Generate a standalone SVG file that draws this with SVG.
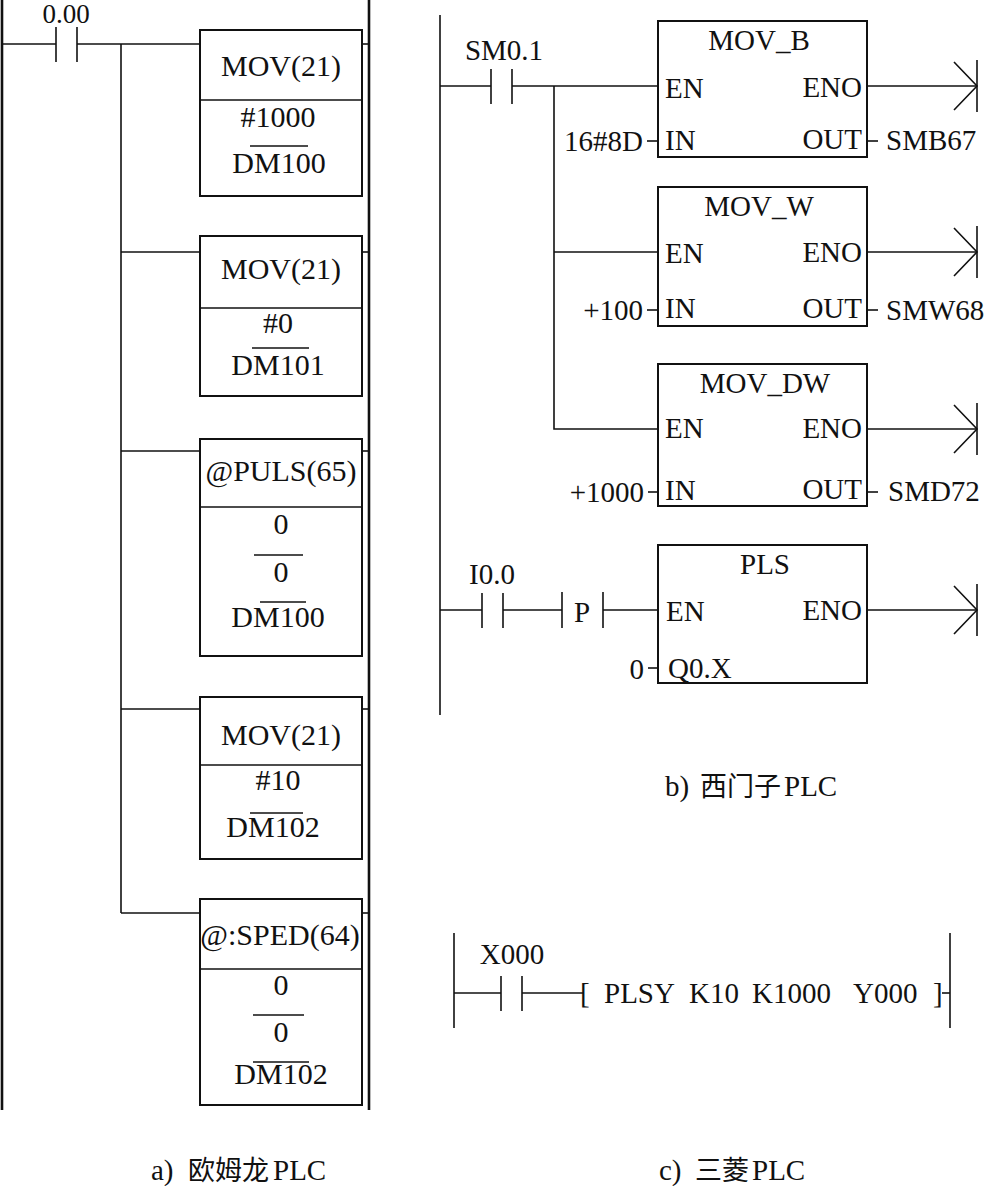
<svg xmlns="http://www.w3.org/2000/svg" xmlns:xlink="http://www.w3.org/1999/xlink" width="986" height="1186" viewBox="0 0 986 1186">
<style>
text{font-family:"Liberation Serif","Times New Roman",serif;fill:#111;}
.l{font-size:30px;}
.r{font-size:29px;}
.m{text-anchor:middle;}
.e{text-anchor:end;}
.cap{font-size:29px;}
.cjk{font-family:"Noto Sans CJK SC","Noto Sans CJK JP",sans-serif;font-size:27px;}
.w{stroke:#111;stroke-width:1.6;fill:none;}
.rail{stroke:#111;stroke-width:2.6;fill:none;}
.box{stroke:#111;stroke-width:2;fill:#fff;}
</style>
<defs>
<g id="contact"><line x1="0" y1="-17" x2="0" y2="18" class="w"/><line x1="21" y1="-17" x2="21" y2="18" class="w"/></g>
<g id="term"><polyline points="-23,-24 0,0 -23,24" class="w"/><line x1="0" y1="-26" x2="0" y2="26" class="w"/></g>
</defs>
<rect width="986" height="1186" fill="#fff"/>

<!-- connectors -->
<g id="connectors">
<!-- a) Omron -->
<line x1="2" y1="0" x2="2" y2="1110" class="rail"/>
<line x1="369" y1="0" x2="369" y2="1110" class="rail"/>
<line x1="2" y1="44" x2="56" y2="44" class="w"/>
<line x1="77" y1="44" x2="200" y2="44" class="w"/>
<line x1="121" y1="44" x2="121" y2="913" class="w"/>
<line x1="121" y1="252" x2="200" y2="252" class="w"/>
<line x1="121" y1="451" x2="200" y2="451" class="w"/>
<line x1="121" y1="709" x2="200" y2="709" class="w"/>
<line x1="121" y1="913" x2="200" y2="913" class="w" stroke-width="2"/>
<line x1="362" y1="44" x2="369" y2="44" class="w"/>
<line x1="362" y1="252" x2="369" y2="252" class="w"/>
<line x1="362" y1="451" x2="369" y2="451" class="w"/>
<line x1="362" y1="709" x2="369" y2="709" class="w"/>
<line x1="362" y1="913" x2="369" y2="913" class="w"/>
<!-- b) Siemens -->
<line x1="440" y1="15" x2="440" y2="715" class="w" stroke-width="2"/>
<line x1="440" y1="86" x2="491" y2="86" class="w"/>
<line x1="512" y1="86" x2="658" y2="86" class="w"/>
<polyline points="554,86 554,429 658,429" class="w"/>
<line x1="554" y1="252" x2="658" y2="252" class="w"/>
<line x1="440" y1="610" x2="482" y2="610" class="w"/>
<line x1="503" y1="610" x2="562" y2="610" class="w"/>
<line x1="562" y1="592" x2="562" y2="628" class="w"/>
<line x1="603" y1="592" x2="603" y2="628" class="w"/>
<line x1="603" y1="610" x2="658" y2="610" class="w"/>
<line x1="867" y1="86" x2="977" y2="86" class="w"/>
<line x1="867" y1="252" x2="977" y2="252" class="w"/>
<line x1="867" y1="429" x2="977" y2="429" class="w"/>
<line x1="867" y1="610" x2="977" y2="610" class="w"/>
<use xlink:href="#term" x="977" y="86"/>
<use xlink:href="#term" x="977" y="252"/>
<use xlink:href="#term" x="977" y="429"/>
<use xlink:href="#term" x="977" y="610"/>
<line x1="647" y1="141" x2="658" y2="141" class="w"/>
<line x1="867" y1="141" x2="878" y2="141" class="w"/>
<line x1="647" y1="310" x2="658" y2="310" class="w"/>
<line x1="867" y1="310" x2="878" y2="310" class="w"/>
<line x1="648" y1="492" x2="658" y2="492" class="w"/>
<line x1="867" y1="492" x2="878" y2="492" class="w"/>
<line x1="648" y1="668" x2="658" y2="668" class="w"/>
<!-- c) Mitsubishi -->
<line x1="454" y1="933" x2="454" y2="1028" class="w" stroke-width="2"/>
<line x1="950" y1="933" x2="950" y2="1028" class="w" stroke-width="2"/>
<line x1="454" y1="993" x2="501" y2="993" class="w"/>
<line x1="522" y1="993" x2="584" y2="993" class="w"/>
<line x1="942" y1="993" x2="950" y2="993" class="w"/>
</g>

<!-- a) Omron nodes -->
<g id="c000">
<use xlink:href="#contact" x="56" y="44"/>
<text class="m" x="66" y="23" font-size="27">0.00</text>
</g>
<g id="mov1">
<rect x="200" y="30" width="162" height="166" class="box"/>
<line x1="200" y1="100" x2="362" y2="100" class="w"/>
<text class="l m" x="281" y="76">MOV(21)</text>
<text class="l m" x="278" y="127">#1000</text>
<line x1="250" y1="146" x2="308" y2="146" class="w"/>
<text class="l m" x="279" y="173">DM100</text>
</g>
<g id="mov2">
<rect x="200" y="236" width="162" height="160" class="box"/>
<line x1="200" y1="308" x2="362" y2="308" class="w"/>
<text class="l m" x="281" y="279">MOV(21)</text>
<text class="l m" x="278" y="333">#0</text>
<line x1="252" y1="348" x2="309" y2="348" class="w"/>
<text class="l m" x="278" y="375">DM101</text>
</g>
<g id="puls">
<rect x="200" y="439" width="162" height="217" class="box"/>
<line x1="200" y1="507" x2="362" y2="507" class="w"/>
<text class="l m" x="281" y="481">@PULS(65)</text>
<text class="l m" x="281" y="534">0</text>
<line x1="254" y1="555" x2="303" y2="555" class="w"/>
<text class="l m" x="281" y="582">0</text>
<line x1="260" y1="602" x2="306" y2="602" class="w"/>
<text class="l m" x="278" y="627">DM100</text>
</g>
<g id="mov3">
<rect x="200" y="697" width="162" height="162" class="box"/>
<line x1="200" y1="765" x2="362" y2="765" class="w"/>
<text class="l m" x="281" y="745">MOV(21)</text>
<text class="l m" x="278" y="790">#10</text>
<line x1="250" y1="813" x2="303" y2="813" class="w"/>
<text class="l m" x="273" y="837">DM102</text>
</g>
<g id="sped">
<rect x="200" y="899" width="162" height="206" class="box"/>
<line x1="200" y1="969" x2="362" y2="969" class="w"/>
<text class="l m" x="280" y="945">@:SPED(64)</text>
<text class="l m" x="281" y="995">0</text>
<line x1="253" y1="1015" x2="304" y2="1015" class="w"/>
<text class="l m" x="281" y="1042">0</text>
<line x1="253" y1="1062" x2="309" y2="1062" class="w"/>
<text class="l m" x="281" y="1084">DM102</text>
</g>
<g id="capA">
<text class="cap" x="151" y="1180">a)<tspan class="cjk" x="188">欧姆龙</tspan><tspan x="273">PLC</tspan></text>
</g>

<!-- b) Siemens nodes -->
<g id="sm01">
<use xlink:href="#contact" x="491" y="86"/>
<text class="r m" x="504" y="60">SM0.1</text>
</g>
<g id="movb">
<rect x="658" y="21" width="209" height="136" class="box"/>
<text class="r m" x="759" y="50">MOV_B</text>
<text class="r" x="665" y="98">EN</text>
<text class="r e" x="862" y="97">ENO</text>
<text class="r" x="665" y="150">IN</text>
<text class="r e" x="862" y="149">OUT</text>
<text class="r e" x="643" y="151">16#8D</text>
<text class="r" x="886" y="150">SMB67</text>
</g>
<g id="movw">
<rect x="658" y="187" width="209" height="139" class="box"/>
<text class="r m" x="759" y="216">MOV_W</text>
<text class="r" x="665" y="263">EN</text>
<text class="r e" x="862" y="262">ENO</text>
<text class="r" x="665" y="318">IN</text>
<text class="r e" x="862" y="318">OUT</text>
<text class="r e" x="643" y="320">+100</text>
<text class="r" x="886" y="320">SMW68</text>
</g>
<g id="movdw">
<rect x="658" y="364" width="209" height="142" class="box"/>
<text class="r m" x="765" y="393">MOV_DW</text>
<text class="r" x="665" y="438">EN</text>
<text class="r e" x="862" y="438">ENO</text>
<text class="r" x="665" y="500">IN</text>
<text class="r e" x="862" y="499">OUT</text>
<text class="r e" x="644" y="502">+1000</text>
<text class="r" x="888" y="501">SMD72</text>
</g>
<g id="i00">
<use xlink:href="#contact" x="482" y="610"/>
<text class="r m" x="492" y="584">I0.0</text>
</g>
<g id="pedge">
<text class="r m" x="582" y="622">P</text>
</g>
<g id="pls">
<rect x="658" y="545" width="209" height="138" class="box"/>
<text class="r m" x="765" y="574">PLS</text>
<text class="r" x="666" y="621">EN</text>
<text class="r e" x="862" y="620">ENO</text>
<text class="r" x="668" y="678">Q0.X</text>
<text class="r e" x="644" y="679">0</text>
</g>
<g id="capB">
<text class="cap" x="665" y="796">b)<tspan class="cjk" x="700">西门子</tspan><tspan x="784">PLC</tspan></text>
</g>

<!-- c) Mitsubishi nodes -->
<g id="x000">
<use xlink:href="#contact" x="501" y="993"/>
<text class="r m" x="512" y="964">X000</text>
</g>
<g id="plsy">
<text class="r" x="580" y="1003">[</text>
<text class="r" x="604" y="1003">PLSY</text>
<text class="r" x="689" y="1003">K10</text>
<text class="r" x="752" y="1003">K1000</text>
<text class="r" x="853" y="1003">Y000</text>
<text class="r" x="933" y="1003">]</text>
</g>
<g id="capC">
<text class="cap" x="659" y="1180">c)<tspan class="cjk" x="695">三菱</tspan><tspan x="752">PLC</tspan></text>
</g>
</svg>
